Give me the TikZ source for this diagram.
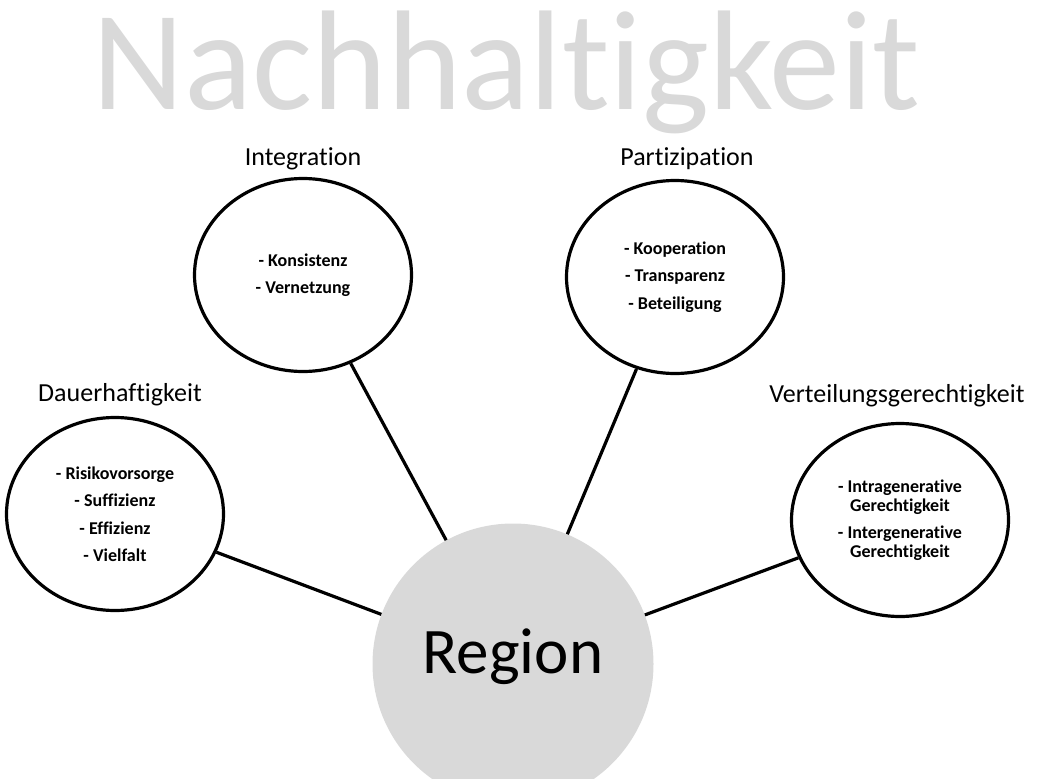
\documentclass[tikz,border=0pt]{standalone}
\usepackage{fontspec}
\setmainfont[Ligatures=NoCommon,RawFeature={-liga;-clig;-calt;-dlig}]{Carlito}
\usetikzlibrary{shapes.geometric}
\definecolor{lightgray}{HTML}{D9D9D9}
\begin{document}
\begin{tikzpicture}[x=1pt,y=-1pt,
  bub/.style={ellipse, draw, line width=3.2pt, minimum width=217pt, minimum height=193pt,
    inner sep=0pt, align=center, font=\fontsize{18}{18.5}\selectfont\bfseries},
  headlabel/.style={anchor=base, inner sep=0pt, font=\fontsize{26}{31}\selectfont},
  conn/.style={line width=3.2pt}]
\clip (0,0) rectangle (1042,779);
\node[anchor=base, inner sep=0pt, text=lightgray, font=\fontsize{142}{170}\selectfont] (title) at (506.5,109) {Nachhalt\kern0pt igkeit};

\node[circle, fill=lightgray, minimum size=281pt, inner sep=0pt] (region) at (513,664) {};
\node[anchor=base, inner sep=0pt, font=\fontsize{65}{78}\selectfont] (regiontext) at (513,673) {Region};

\node[bub] (integ) at (303,275) {- Konsistenz\\[9pt]- Vernetzung};
\node[bub] (partiz) at (675,277) {- Kooperation\\[9pt]- Transparenz\\[9pt]- Beteiligung};
\node[bub] (dauer) at (115,514) {- Risikovorsorge\\[9pt]- Suffizienz\\[9pt]- Effizienz\\[9pt]- Vielfalt};
\node[bub] (vert) at (900,520) {- Intragenerative\\Gerechtigkeit\\[9pt]- Intergenerative\\Gerechtigkeit};

\node[headlabel] (linteg) at (303,165) {Integration};
\node[headlabel] (lpartiz) at (687,165) {Partizipation};
\node[headlabel] (ldauer) at (120,401) {Dauerhaftigkeit};
\node[headlabel] (lvert) at (897,402) {Verteilungsgerechtigkeit};

\draw[conn] (integ) -- (region);
\draw[conn] (partiz) -- (region);
\draw[conn] (dauer) -- (region);
\draw[conn] (vert) -- (region);
\end{tikzpicture}
\end{document}
